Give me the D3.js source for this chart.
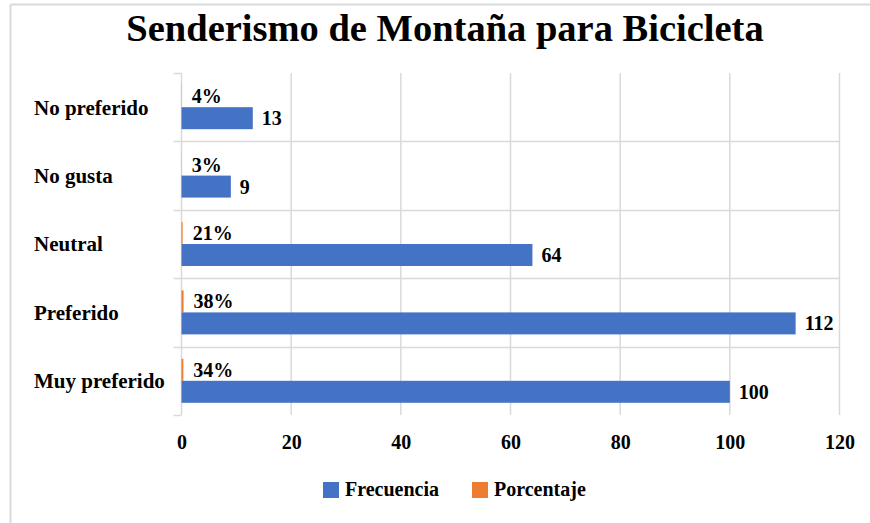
<!doctype html>
<html>
<head>
<meta charset="utf-8">
<script src="https://d3js.org/d3.v7.min.js"></script>
<style>
  body { margin: 0; background: #fff; }
  text { font-family: "Liberation Serif", "Times New Roman", serif; font-weight: bold; fill: #000; }
</style>
</head>
<body>
<svg width="870" height="523"></svg>
<script>
  // data
  var categories = ["No preferido", "No gusta", "Neutral", "Preferido", "Muy preferido"];
  var frecuencia = [13, 9, 64, 112, 100];
  var porcentaje = [0.04, 0.03, 0.21, 0.38, 0.34];
  var porcentajeLabels = ["4%", "3%", "21%", "38%", "34%"];
  var series = ["Porcentaje", "Frecuencia"];
  var xTicks = [0, 20, 40, 60, 80, 100, 120];
  var colors = { Frecuencia: "#4472C4", Porcentaje: "#ED7D31" };

  var svg = d3.select("svg");
  var grid = "#d9d9d9";

  // outer frame (top and left edges only visible)
  svg.append("line").attr("x1", 10.5).attr("x2", 870).attr("y1", 4.5).attr("y2", 4.5)
     .attr("stroke", grid).attr("stroke-width", 2);
  svg.append("line").attr("x1", 10.5).attr("x2", 10.5).attr("y1", 4.5).attr("y2", 523)
     .attr("stroke", grid).attr("stroke-width", 2);

  svg.append("text")
     .attr("x", 445)
     .attr("y", 41)
     .attr("text-anchor", "middle")
     .attr("font-size", "38.5px")
     .text("Senderismo de Montaña para Bicicleta");

  var plotLeft = 181.5, plotRight = 839.5, plotTop = 73, plotBottom = 415;

  var x = d3.scaleLinear().domain([0, 120]).range([plotLeft, plotRight]);
  var y = d3.scaleBand().domain(categories).range([plotTop, plotBottom])
            .paddingInner(0.357).paddingOuter(0.1785);
  var ySub = d3.scaleBand().domain(series).range([0, y.bandwidth()]);
  var step = y.step();

  // vertical gridlines
  svg.append("g").selectAll("line")
     .data(xTicks.slice(1))
     .enter().append("line")
     .attr("x1", function(d) { return x(d); })
     .attr("x2", function(d) { return x(d); })
     .attr("y1", plotTop).attr("y2", plotBottom)
     .attr("stroke", grid).attr("stroke-width", 1.5);

  // category boundaries: gridlines inside, short ticks at ends
  var bounds = d3.range(categories.length + 1);
  svg.append("g").selectAll("line")
     .data(bounds)
     .enter().append("line")
     .attr("x1", plotLeft - 8)
     .attr("x2", function(d) { return (d === 0 || d === categories.length) ? plotLeft : x(120); })
     .attr("y1", function(d) { return Math.round(plotTop + d * step) + 0.5; })
     .attr("y2", function(d) { return Math.round(plotTop + d * step) + 0.5; })
     .attr("stroke", grid).attr("stroke-width", 1.5);

  // category axis line
  svg.append("line")
     .attr("x1", plotLeft).attr("x2", plotLeft)
     .attr("y1", plotTop).attr("y2", plotBottom)
     .attr("stroke", grid).attr("stroke-width", 1.5);

  var rows = categories.map(function(c, i) {
    return { cat: c, Frecuencia: frecuencia[i], Porcentaje: porcentaje[i], pLabel: porcentajeLabels[i] };
  });

  var g = svg.append("g").selectAll("g")
     .data(rows)
     .enter().append("g")
     .attr("transform", function(d) { return "translate(0," + y(d.cat) + ")"; });

  g.selectAll("rect")
   .data(function(d) { return series.map(function(s) { return { key: s, value: d[s] }; }); })
   .enter().append("rect")
   .attr("x", x(0))
   .attr("y", function(d) { return ySub(d.key); })
   .attr("width", function(d) { return x(d.value) - x(0); })
   .attr("height", ySub.bandwidth())
   .attr("fill", function(d) { return colors[d.key]; });

  // value labels
  g.append("text")
   .attr("x", function(d) { return x(d.Frecuencia) + 9; })
   .attr("y", ySub("Frecuencia") + ySub.bandwidth() / 2)
   .attr("dy", "0.35em")
   .attr("font-size", "20px")
   .text(function(d) { return d.Frecuencia; });

  g.append("text")
   .attr("x", function(d) { return x(d.Porcentaje) + 10; })
   .attr("y", ySub("Porcentaje") + ySub.bandwidth() / 2)
   .attr("dy", "0.35em")
   .attr("font-size", "20px")
   .text(function(d) { return d.pLabel; });

  // category labels
  svg.append("g").selectAll("text")
     .data(categories)
     .enter().append("text")
     .attr("x", 34)
     .attr("y", function(d) { return y(d) + y.bandwidth() / 2; })
     .attr("dy", "0.35em")
     .attr("font-size", "21px")
     .text(function(d) { return d; });

  // x axis tick labels
  var xAxis = svg.append("g")
     .attr("transform", "translate(0," + plotBottom + ")")
     .call(d3.axisBottom(x).tickValues(xTicks).tickSize(0).tickPadding(20));
  xAxis.select(".domain").remove();
  xAxis.selectAll("text")
     .attr("font-size", "20px")
     .attr("font-family", null)
     .attr("fill", "#000");

  // legend
  var legend = svg.append("g").selectAll("g")
     .data(["Frecuencia", "Porcentaje"])
     .enter().append("g")
     .attr("transform", function(d, i) { return "translate(" + (323 + i * 149) + ",482)"; });
  legend.append("rect")
     .attr("width", 16).attr("height", 16)
     .attr("fill", function(d) { return colors[d]; });
  legend.append("text")
     .attr("x", 22).attr("y", 14)
     .attr("font-size", "20px")
     .text(function(d) { return d; });
</script>
</body>
</html>
